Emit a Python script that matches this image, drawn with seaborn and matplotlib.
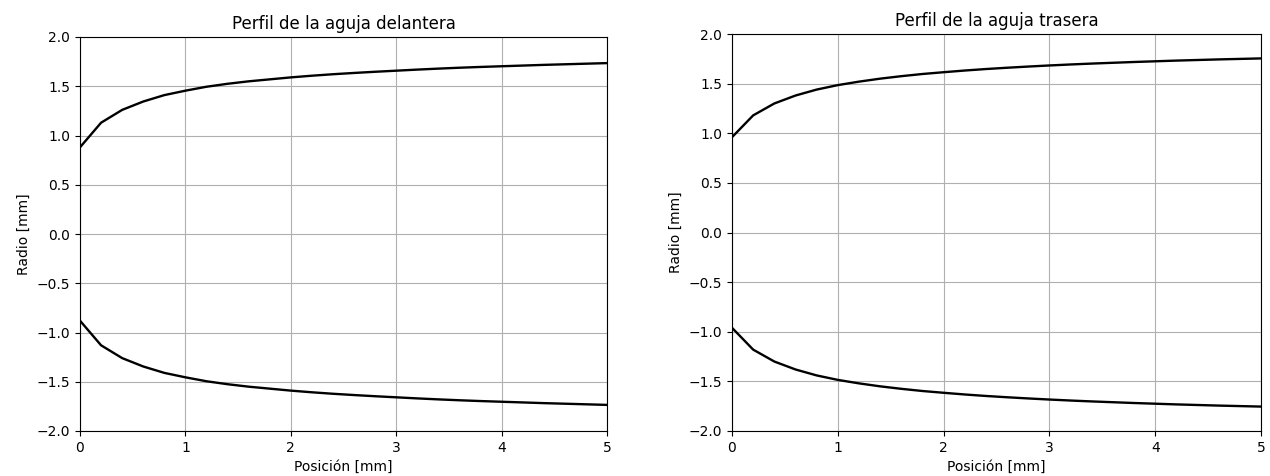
import matplotlib
matplotlib.use("Agg")
import matplotlib.pyplot as plt
import seaborn as sns
import numpy as np
import pandas as pd

# posiciones axiales [mm]
posicion = [0.0, 0.2, 0.4, 0.6, 0.8, 1.0, 1.2, 1.4, 1.6, 1.8, 2.0, 2.2, 2.4,
            2.6, 2.8, 3.0, 3.2, 3.4, 3.6, 3.8, 4.0, 4.2, 4.4, 4.6, 4.8, 5.0]

# radio de la aguja delantera [mm]
radio_delantera = [0.88, 1.13, 1.26, 1.345, 1.41, 1.455, 1.495, 1.525, 1.55,
                   1.57, 1.59, 1.607, 1.622, 1.635, 1.647, 1.658, 1.669, 1.679,
                   1.688, 1.696, 1.703, 1.710, 1.717, 1.723, 1.729, 1.735]

# radio de la aguja trasera [mm]
radio_trasera = [0.96, 1.18, 1.30, 1.38, 1.44, 1.485, 1.52, 1.55, 1.575, 1.597,
                 1.615, 1.632, 1.647, 1.66, 1.672, 1.683, 1.693, 1.702, 1.71,
                 1.718, 1.725, 1.732, 1.738, 1.744, 1.749, 1.754]

titulos = ['Perfil de la aguja delantera', 'Perfil de la aguja trasera']
xticks = [0, 1, 2, 3, 4, 5]
yticks = [-2.0, -1.5, -1.0, -0.5, 0.0, 0.5, 1.0, 1.5, 2.0]

plt.rcParams['font.family'] = ['DejaVu Sans']
fig = plt.figure(figsize=(12.7, 4.76), dpi=100)
ax1 = fig.add_axes([80 / 1270, 45 / 476, 527 / 1270, 394 / 476])
ax2 = fig.add_axes([732 / 1270, 45 / 476, 529 / 1270, 397 / 476])


def perfil(ax, x, r, title):
    df = pd.DataFrame({'x': x, 'r': r})
    # contorno superior e inferior (simetrico)
    sns.lineplot(data=df, x='x', y='r', ax=ax, color='black', lw=1.7)
    sns.lineplot(x=df['x'], y=-df['r'], ax=ax, color='black', lw=1.7)
    ax.set_xlim(0, 5)
    ax.set_ylim(-2, 2)
    ax.set_xticks(xticks)
    ax.set_yticks(yticks)
    ax.grid(True, color='#b0b0b0', lw=0.8)
    ax.set_title(title, fontsize=12)
    ax.set_xlabel('Posición [mm]')
    ax.set_ylabel('Radio [mm]')


perfil(ax1, posicion, radio_delantera, titulos[0])
perfil(ax2, posicion, radio_trasera, titulos[1])

fig.savefig('out.png', dpi=100)
